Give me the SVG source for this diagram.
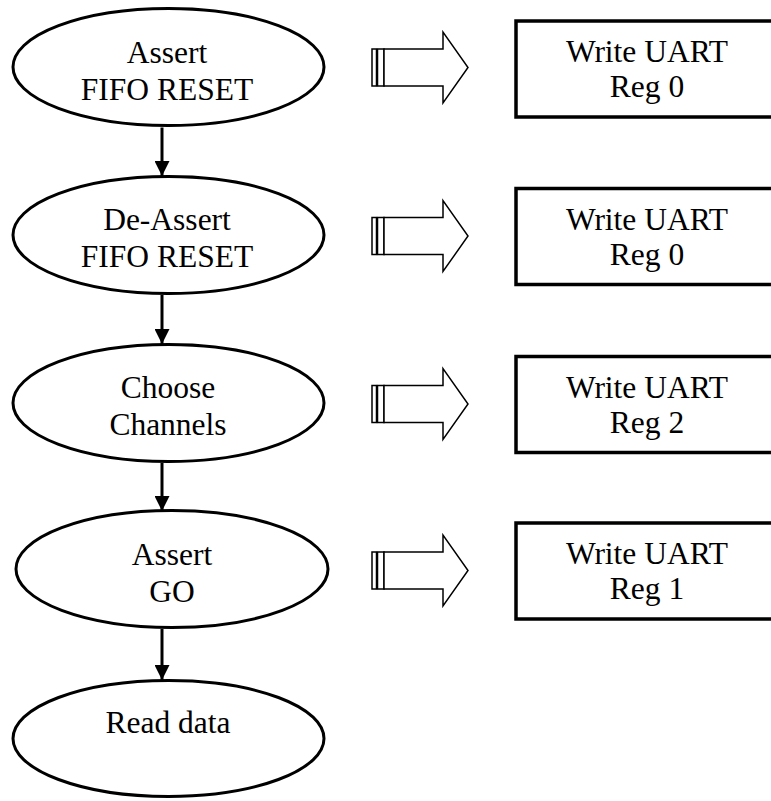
<svg xmlns="http://www.w3.org/2000/svg" xmlns:xlink="http://www.w3.org/1999/xlink" width="771" height="801" viewBox="0 0 771 801">
<style>
.node ellipse{fill:#fff;stroke:#000;stroke-width:3}
.box rect{fill:#fff;stroke:#000;stroke-width:3.5}
text{font-family:"Liberation Serif","Times New Roman",serif;font-size:31.5px;fill:#000;text-anchor:middle}
.conn line{stroke:#000;stroke-width:3}
.big{fill:#fff;stroke:#000;stroke-width:1.5}
</style>
<defs>
<marker id="ah" viewBox="0 0 15 15" refX="15" refY="7.5" markerWidth="15" markerHeight="15" markerUnits="userSpaceOnUse" orient="auto">
<path d="M0,0 L15,7.5 L0,15 Z" fill="#000"/>
</marker>
<g id="bigArrow" class="big">
<rect x="372" y="-18.5" width="4.5" height="37"/>
<rect x="377.5" y="-18.5" width="6.5" height="37"/>
<path d="M384,-18.5 H443 V-35.5 L468,0 L443,35.5 V18.5 H384 Z"/>
</g>
</defs>

<g id="connectors" class="conn">
<line x1="162" y1="127.5" x2="162" y2="176" marker-end="url(#ah)"/>
<line x1="162" y1="295" x2="162" y2="344" marker-end="url(#ah)"/>
<line x1="162" y1="463" x2="162" y2="511" marker-end="url(#ah)"/>
<line x1="162" y1="629" x2="162" y2="680" marker-end="url(#ah)"/>
</g>

<g id="n1" class="node">
<ellipse cx="168.5" cy="67" rx="155.5" ry="58.5"/>
<text x="167" y="63">Assert</text>
<text x="167" y="99.5">FIFO RESET</text>
</g>
<g id="n2" class="node">
<ellipse cx="168.5" cy="235" rx="155.5" ry="58.5"/>
<text x="167" y="230">De-Assert</text>
<text x="167" y="267">FIFO RESET</text>
</g>
<g id="n3" class="node">
<ellipse cx="168.5" cy="403" rx="155.5" ry="58.5"/>
<text x="168" y="398">Choose</text>
<text x="168" y="435">Channels</text>
</g>
<g id="n4" class="node">
<ellipse cx="172" cy="569" rx="156" ry="58.5"/>
<text x="172" y="565">Assert</text>
<text x="172" y="602">GO</text>
</g>
<g id="n5" class="node">
<ellipse cx="168.5" cy="738.5" rx="155.5" ry="58">
</ellipse>
<text x="168" y="733">Read data</text>
</g>

<g id="a1"><use xlink:href="#bigArrow" href="#bigArrow" transform="translate(0,67.5)"/></g>
<g id="a2"><use xlink:href="#bigArrow" href="#bigArrow" transform="translate(0,236)"/></g>
<g id="a3"><use xlink:href="#bigArrow" href="#bigArrow" transform="translate(0,404)"/></g>
<g id="a4"><use xlink:href="#bigArrow" href="#bigArrow" transform="translate(0,570.5)"/></g>

<g id="b1" class="box">
<rect x="516" y="21" width="270" height="96"/>
<text x="647" y="62">Write UART</text>
<text x="647" y="97">Reg 0</text>
</g>
<g id="b2" class="box">
<rect x="516" y="188.5" width="270" height="96"/>
<text x="647" y="229.5">Write UART</text>
<text x="647" y="264.5">Reg 0</text>
</g>
<g id="b3" class="box">
<rect x="516" y="356.5" width="270" height="96"/>
<text x="647" y="397.5">Write UART</text>
<text x="647" y="432.5">Reg 2</text>
</g>
<g id="b4" class="box">
<rect x="516" y="523" width="270" height="96"/>
<text x="647" y="564">Write UART</text>
<text x="647" y="599">Reg 1</text>
</g>
</svg>
